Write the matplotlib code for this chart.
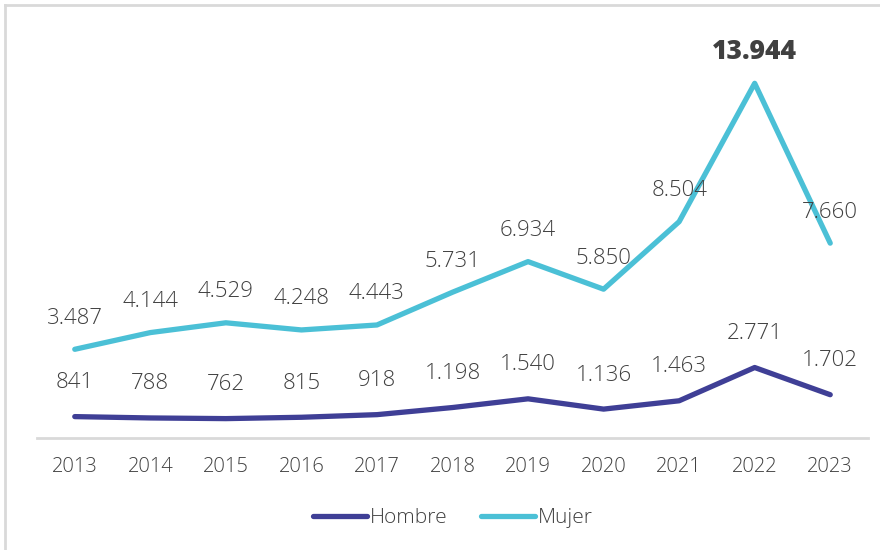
import matplotlib.pyplot as plt
from matplotlib.lines import Line2D

years = ["2013", "2014", "2015", "2016", "2017", "2018", "2019", "2020", "2021", "2022", "2023"]
hombre = [841, 788, 762, 815, 918, 1198, 1540, 1136, 1463, 2771, 1702]
mujer = [3487, 4144, 4529, 4248, 4443, 5731, 6934, 5850, 8504, 13944, 7660]

c_h = "#3F3F96"
c_m = "#4BC0D6"
c_txt = "#404040"
lw = 3.8

def fmt(v):
	return f"{v:,}".replace(",", ".")

plt.rcParams['font.family'] = ['Open Sans', 'DejaVu Sans']

fig = plt.figure(figsize=(8.8, 5.5), dpi=100)
ax = fig.add_axes([37 / 880, 1 - 438 / 550, 831 / 880, 407 / 550])

x = list(range(len(years)))
ax.plot(x, hombre, color=c_h, lw=lw, solid_capstyle="round", solid_joinstyle="round")
ax.plot(x, mujer, color=c_m, lw=lw, solid_capstyle="round", solid_joinstyle="round")

for i, v in enumerate(hombre):
	ax.annotate(fmt(v), (i, v), xytext=(0, 34), textcoords="offset pixels",
		ha="center", va="center", fontsize=16, color=c_txt, fontweight=300)
for i, v in enumerate(mujer):
	bold = v == max(mujer)
	ax.annotate(fmt(v), (i, v), xytext=(0, 31), textcoords="offset pixels",
		ha="center", va="center", fontsize=19 if bold else 16, color=c_txt,
		fontweight="heavy" if bold else 300)

ax.set_xlim(-0.5, len(years) - 0.5)
ax.set_ylim(0, 16000)
ax.set_xticks(x)
ax.set_xticklabels(years, fontsize=14.5, color=c_txt, fontweight=300)
ax.tick_params(axis="x", length=0, pad=14)
ax.set_yticks([])
for s in ["top", "right", "left"]:
	ax.spines[s].set_visible(False)
ax.spines["bottom"].set_color("#D9D9D9")
ax.spines["bottom"].set_linewidth(2)

handles = [Line2D([], [], color=c_h, lw=lw, solid_capstyle="round"),
	Line2D([], [], color=c_m, lw=lw, solid_capstyle="round")]
leg = fig.legend(handles, ["Hombre", "Mujer"], loc="center", bbox_to_anchor=(453 / 880, 1 - 518 / 550),
	ncol=2, frameon=False, prop={'size': 15, 'weight': 300},
	handlelength=2.6, handletextpad=0.15, columnspacing=1.6)
for t in leg.get_texts():
	t.set_color(c_txt)

# light frame around the chart
fig.add_artist(Line2D([5 / 880, 5 / 880], [0, 1 - 5 / 550], color="#D9D9D9", lw=2, transform=fig.transFigure))
fig.add_artist(Line2D([5 / 880, 1], [1 - 5 / 550, 1 - 5 / 550], color="#D9D9D9", lw=2, transform=fig.transFigure))

fig.savefig("out.png", dpi=100)
